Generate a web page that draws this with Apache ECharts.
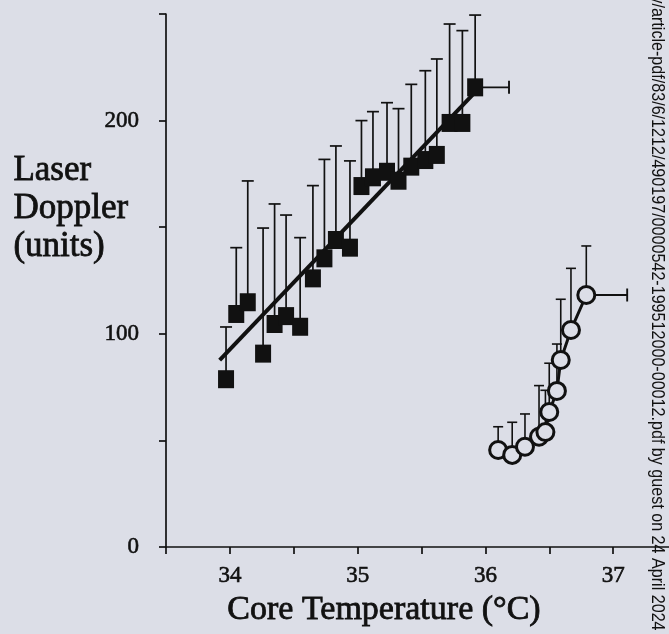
<!DOCTYPE html>
<html>
<head>
<meta charset="utf-8">
<script src="https://cdn.jsdelivr.net/npm/echarts@6/dist/echarts.min.js"></script>
<style>
html,body{margin:0;padding:0;background:#dcdee7;}
#chart{width:669px;height:634px;}
</style>
</head>
<body>
<div id="chart"></div>
<script>
// Filled squares: core temperature (°C), laser Doppler mean, upper error bar
const squareTemp  = [33.97, 34.05, 34.14, 34.26, 34.35, 34.44, 34.55, 34.65, 34.74, 34.83, 34.94, 35.03, 35.12, 35.23, 35.32, 35.42, 35.53, 35.62, 35.72, 35.82, 35.92];
const squareLD    = [78.7, 109.3, 114.8, 90.7, 104.6, 108.3, 103.3, 126.0, 135.4, 144.0, 140.4, 169.3, 173.4, 176.0, 171.8, 178.4, 181.5, 183.9, 198.9, 198.9, 215.6];
const squareUpper = [103.2, 140.4, 171.7, 149.6, 160.9, 155.7, 145.1, 169.5, 181.8, 188.1, 181.1, 200.0, 204.2, 208.4, 205.6, 217.0, 223.4, 228.9, 245.3, 242.2, 249.5];
// Regression line endpoints for squares
const fitTemp = [33.92, 35.92];
const fitLD   = [87.7, 213.4];
// Open circles
const circleTemp  = [36.10, 36.21, 36.31, 36.42, 36.47, 36.50, 36.56, 36.59, 36.67, 36.79];
const circleLD    = [45.5, 43.2, 47.0, 51.7, 53.9, 63.3, 73.2, 87.7, 101.8, 118.2];
const circleUpper = [56.4, 58.5, 62.4, 75.7, 73.5, 86.2, 95.2, 116.2, 130.7, 141.2];
// Horizontal error bars: [temp, LD, temp + SD]
const squareHBar = [35.92, 215.6, 36.185];
const circleHBar = [36.79, 118.2, 37.11];
// Axis labels
const xLabels = [34, 35, 36, 37];
const yLabels = [0, 100, 200];

const BG = '#dcdee7';
const INK = '#111111';
const SERIF = '"Liberation Serif", "DejaVu Serif", serif';

function vBar(lw, cap) {
  return function (params, api) {
    const p0 = api.coord([api.value(0), api.value(1)]);
    const p1 = api.coord([api.value(0), api.value(2)]);
    return { type: 'group', children: [
      { type: 'line', shape: { x1: p0[0], y1: p0[1], x2: p1[0], y2: p1[1] }, style: { stroke: INK, lineWidth: lw } },
      { type: 'line', shape: { x1: p1[0] - cap / 2, y1: p1[1], x2: p1[0] + cap / 2, y2: p1[1] }, style: { stroke: INK, lineWidth: lw } }
    ]};
  };
}
function hBar(lw, cap) {
  return function (params, api) {
    const p0 = api.coord([api.value(0), api.value(1)]);
    const p1 = api.coord([api.value(2), api.value(1)]);
    return { type: 'group', children: [
      { type: 'line', shape: { x1: p0[0], y1: p0[1], x2: p1[0], y2: p1[1] }, style: { stroke: INK, lineWidth: lw } },
      { type: 'line', shape: { x1: p1[0], y1: p1[1] - cap / 2, x2: p1[0], y2: p1[1] + cap / 2 }, style: { stroke: INK, lineWidth: lw } }
    ]};
  };
}

const chart = echarts.init(document.getElementById('chart'), null, { renderer: 'canvas' });
chart.setOption({
  backgroundColor: BG,
  animation: false,
  grid: { left: 166, top: 14, height: 533, width: 511, containLabel: false, outerBoundsMode: 'none' },
  xAxis: {
    type: 'value', min: 33.5, max: 37.5, interval: 0.5,
    axisLine: { show: true, lineStyle: { color: INK, width: 1.7 } },
    axisTick: { show: true, length: 7, lineStyle: { color: INK, width: 1.7 } },
    axisLabel: {
      margin: 17, color: INK, fontFamily: SERIF, fontSize: 23,
      textBorderColor: INK, textBorderWidth: 0.6,
      formatter: v => xLabels.includes(v) ? String(v) : ''
    },
    splitLine: { show: false }
  },
  yAxis: {
    type: 'value', min: 0, max: 250, interval: 50,
    axisLine: { show: true, lineStyle: { color: INK, width: 1.7 } },
    axisTick: { show: true, length: 7, lineStyle: { color: INK, width: 1.7 } },
    axisLabel: {
      margin: 27, color: INK, fontFamily: SERIF, fontSize: 23,
      textBorderColor: INK, textBorderWidth: 0.6,
      formatter: v => yLabels.includes(v) ? String(v) : ''
    },
    splitLine: { show: false }
  },
  series: [
    {
      type: 'custom', z: 1, renderItem: vBar(1.7, 12), encode: { x: 0, y: 1 },
      data: squareTemp.map((t, i) => [t, squareLD[i], squareUpper[i]])
    },
    {
      type: 'custom', z: 1, renderItem: hBar(1.9, 13), encode: { x: 0, y: 1 },
      data: [squareHBar, circleHBar]
    },
    {
      type: 'custom', z: 1, renderItem: vBar(1.6, 10), encode: { x: 0, y: 1 },
      data: circleTemp.map((t, i) => [t, circleLD[i], circleUpper[i]])
    },
    {
      type: 'line', z: 2, symbol: 'none',
      lineStyle: { color: INK, width: 4 },
      data: fitTemp.map((t, i) => [t, fitLD[i]])
    },
    {
      type: 'scatter', z: 3, symbol: 'rect', symbolSize: [16, 18],
      itemStyle: { color: INK, opacity: 1 },
      data: squareTemp.map((t, i) => [t, squareLD[i]])
    },
    {
      type: 'line', z: 3, symbol: 'circle', symbolSize: 17, showSymbol: true,
      lineStyle: { color: INK, width: 3 },
      itemStyle: { color: BG, borderColor: INK, borderWidth: 3 },
      data: circleTemp.map((t, i) => [t, circleLD[i]])
    }
  ],
  graphic: [
    {
      type: 'text', left: 13, top: 152, z: 10,
      style: { text: 'Laser\nDoppler\n(units)', fill: INK, stroke: INK, lineWidth: 0.8, font: '35px ' + SERIF, lineHeight: 38, verticalAlign: 'top' }
    },
    {
      type: 'text', x: 384, y: 610, z: 10,
      style: { text: 'Core Temperature (°C)', fill: INK, stroke: INK, lineWidth: 0.8, font: '34px ' + SERIF, align: 'center', verticalAlign: 'middle' }
    },
    {
      type: 'text', x: 657, y: -4.5, rotation: -Math.PI / 2, scaleX: 0.895, z: 10,
      style: { text: 'y/article-pdf/83/6/1212/490197/0000542-199512000-00012.pdf by guest on 24 April 2024', fill: '#111', font: '18px "Liberation Sans", Arial, sans-serif', align: 'left', verticalAlign: 'middle' }
    }
  ]
});
</script>
</body>
</html>
